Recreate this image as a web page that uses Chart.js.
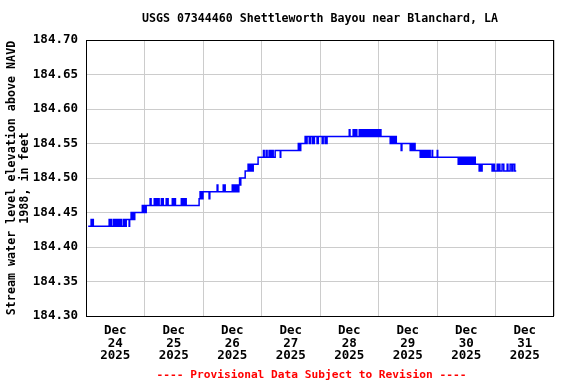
<!DOCTYPE html>
<html>
<head>
<meta charset="utf-8">
<script src="https://cdn.jsdelivr.net/npm/chart.js@4.4.0/dist/chart.umd.min.js"></script>
<style>
    html, body { margin: 0; padding: 0; background: #ffffff; }
</style>
</head>
<body>
<canvas id="gageChart" width="576" height="384"></canvas>
<script>
// Readings as [hours since Dec 24 00:00, elevation ft], one point per change in value
const day24 = [
    [0.9, 184.43], [2.1, 184.44], [2.5, 184.43], [2.8, 184.44], [3.0, 184.43],
    [9.5, 184.44], [9.9, 184.43], [10.1, 184.44], [10.4, 184.43],
    [11.2, 184.44], [11.6, 184.43], [11.9, 184.44], [12.1, 184.43],
    [12.4, 184.44], [12.8, 184.43], [13.0, 184.44], [13.4, 184.43], [13.6, 184.44], [14.0, 184.43], [14.2, 184.44], [14.5, 184.43],
    [15.3, 184.44], [15.7, 184.43], [15.9, 184.44], [16.3, 184.43], [16.5, 184.44],
    [17.7, 184.43], [17.9, 184.44],
    [18.5, 184.45], [18.8, 184.44], [19.0, 184.45], [19.3, 184.44], [19.5, 184.45], [19.8, 184.44], [20.0, 184.45],
    [23.1, 184.46], [23.4, 184.45], [23.6, 184.46], [23.9, 184.45]
];
const day25 = [
    [24.1, 184.46], [24.4, 184.45], [24.7, 184.46],
    [26.3, 184.47], [26.7, 184.46],
    [28.0, 184.47], [28.3, 184.46], [28.5, 184.47], [28.8, 184.46], [29.0, 184.47], [29.3, 184.46], [29.5, 184.47], [30.0, 184.46],
    [30.9, 184.47], [31.2, 184.46], [31.4, 184.47], [31.7, 184.46],
    [32.9, 184.47], [33.2, 184.46], [33.4, 184.47], [33.7, 184.46],
    [35.4, 184.47], [35.7, 184.46], [35.9, 184.47], [36.2, 184.46], [36.4, 184.47], [36.7, 184.46],
    [39.1, 184.47], [39.4, 184.46], [39.6, 184.47], [39.9, 184.46], [40.1, 184.47], [40.4, 184.46], [40.6, 184.47], [41.1, 184.46],
    [46.4, 184.47], [46.8, 184.48], [47.1, 184.47], [47.3, 184.48], [47.6, 184.47]
];
const day26 = [
    [48.0, 184.48], [50.5, 184.47], [50.8, 184.48],
    [53.8, 184.49], [54.1, 184.48],
    [56.3, 184.49], [56.6, 184.48], [56.8, 184.49], [57.1, 184.48],
    [60.0, 184.49], [60.3, 184.48], [60.5, 184.49], [60.8, 184.48], [61.0, 184.49], [61.3, 184.48], [61.5, 184.49], [61.8, 184.48],
    [62.2, 184.49], [62.5, 184.48], [62.7, 184.49], [63.0, 184.50], [63.2, 184.49], [63.5, 184.50],
    [65.3, 184.51],
    [66.5, 184.52], [66.8, 184.51], [67.0, 184.52], [67.3, 184.51], [67.5, 184.52], [67.8, 184.51], [68.0, 184.52], [68.3, 184.51], [68.6, 184.52],
    [70.6, 184.53]
];
const day27 = [
    [72.8, 184.54],
    [73.1, 184.53], [73.9, 184.54], [74.3, 184.53], [75.1, 184.54], [75.6, 184.53], [76.2, 184.54], [76.8, 184.53], [77.6, 184.54],
    [79.7, 184.53], [79.9, 184.54],
    [87.1, 184.55], [87.4, 184.54], [87.6, 184.55], [87.9, 184.54], [88.1, 184.55],
    [89.9, 184.56], [90.3, 184.55], [90.7, 184.56], [91.6, 184.55], [92.0, 184.56],
    [92.8, 184.55], [93.1, 184.56], [93.4, 184.55], [93.7, 184.56],
    [94.8, 184.55], [95.3, 184.56]
];
const day28 = [
    [96.9, 184.55], [97.3, 184.56],
    [98.1, 184.55], [98.4, 184.56], [98.6, 184.55], [98.9, 184.56],
    [108.0, 184.57], [108.3, 184.56],
    [109.6, 184.57], [109.9, 184.56], [110.1, 184.57], [110.4, 184.56],
    [110.8, 184.57], [111.1, 184.56],
    [112.1, 184.57], [112.4, 184.56], [112.6, 184.57], [112.9, 184.56], [113.1, 184.57], [113.4, 184.56], [113.6, 184.57], [113.9, 184.56],
    [114.5, 184.57], [114.8, 184.56], [115.0, 184.57], [115.3, 184.56],
    [115.8, 184.57], [116.1, 184.56], [116.3, 184.57], [116.6, 184.56], [116.8, 184.57], [117.3, 184.56], [117.5, 184.57], [117.8, 184.56],
    [118.0, 184.57], [118.3, 184.56], [118.5, 184.57], [118.8, 184.56], [119.0, 184.57], [119.3, 184.56], [119.5, 184.57], [119.8, 184.56]
];
const day29 = [
    [120.0, 184.57], [120.3, 184.56], [120.5, 184.57], [121.0, 184.56],
    [124.8, 184.55], [125.1, 184.56], [125.3, 184.55], [125.6, 184.56], [125.8, 184.55], [126.1, 184.56], [126.3, 184.55], [126.6, 184.56],
    [126.8, 184.55], [127.1, 184.56], [127.3, 184.55],
    [129.3, 184.54], [129.6, 184.55],
    [133.0, 184.54], [133.3, 184.55], [133.5, 184.54], [133.8, 184.55], [134.0, 184.54], [134.3, 184.55], [134.5, 184.54], [134.8, 184.55], [135.0, 184.54],
    [137.1, 184.53], [137.5, 184.54], [137.7, 184.53], [138.3, 184.54], [138.5, 184.53], [139.1, 184.54], [139.4, 184.53], [139.6, 184.54],
    [140.0, 184.53], [140.4, 184.54], [140.7, 184.53], [140.9, 184.54], [141.2, 184.53], [142.0, 184.54], [142.2, 184.53]
];
const day30 = [
    [144.1, 184.54], [144.3, 184.53],
    [152.7, 184.52], [153.0, 184.53], [153.2, 184.52], [153.5, 184.53], [153.7, 184.52], [154.0, 184.53], [154.2, 184.52], [154.5, 184.53],
    [154.8, 184.52], [155.3, 184.53], [155.5, 184.52], [156.0, 184.53], [156.2, 184.52], [156.7, 184.53], [156.9, 184.52], [157.4, 184.53],
    [157.6, 184.52], [158.1, 184.53], [158.3, 184.52], [158.8, 184.53], [159.0, 184.52], [159.4, 184.53], [159.7, 184.52],
    [161.3, 184.51], [161.6, 184.52], [161.9, 184.51], [162.5, 184.52],
    [166.6, 184.51], [166.9, 184.52], [167.1, 184.51], [167.4, 184.52], [167.6, 184.51]
];
const day31 = [
    [168.7, 184.52], [169.0, 184.51], [169.2, 184.52], [169.8, 184.51],
    [170.7, 184.52], [171.4, 184.51], [172.8, 184.52], [173.1, 184.51],
    [174.0, 184.52], [174.7, 184.51], [175.2, 184.52], [175.9, 184.51], [176.5, 184.51]
];

const dayLabels = ['24', '25', '26', '27', '28', '29', '30', '31'];
const monthLabel = 'Dec';
const yearLabel = '2025';
const yTicks = [184.30, 184.35, 184.40, 184.45, 184.50, 184.55, 184.60, 184.65, 184.70];
const midnightHours = [0, 24, 48, 72, 96, 120, 144, 168, 192];
const noonHours = [12, 36, 60, 84, 108, 132, 156, 180];
const chartTitle = 'USGS 07344460 Shettleworth Bayou near Blanchard, LA';
const footNote = '---- Provisional Data Subject to Revision ----';

const readings = [].concat(day24, day25, day26, day27, day28, day29, day30, day31)
    .map(p => ({ x: p[0], y: p[1] }));

const monoBold = { family: 'DejaVu Sans Mono', weight: 'bold' };

// black box round the plot area, title over the plot, red note at the foot
const frameAndText = {
    id: 'frameAndText',
    afterDatasetsDraw(chart) {
        const a = chart.chartArea;
        const ctx = chart.ctx;
        ctx.save();
        ctx.strokeStyle = '#000000';
        ctx.lineWidth = 1;
        ctx.strokeRect(Math.round(a.left) + 0.5, Math.round(a.top) + 0.5,
            Math.round(a.right - a.left) - 1, Math.round(a.bottom - a.top));

        ctx.textAlign = 'center';
        ctx.textBaseline = 'middle';
        ctx.fillStyle = '#000000';
        ctx.font = 'bold 11.6px "DejaVu Sans Mono"';
        ctx.fillText(chartTitle, (a.left + a.right) / 2, 19);

        ctx.fillStyle = '#ff0000';
        ctx.font = 'bold 11.2px "DejaVu Sans Mono"';
        ctx.fillText(footNote, 311.5, 375);
        ctx.restore();
    }
};

const ctx = document.getElementById('gageChart').getContext('2d');
new Chart(ctx, {
    type: 'line',
    data: {
        datasets: [{
            data: readings,
            stepped: true,
            borderColor: '#0000ff',
            borderWidth: 1.5,
            pointRadius: 0,
            fill: false
        }]
    },
    options: {
        responsive: false,
        animation: false,
        layout: { padding: { left: 0, right: 22, top: 40, bottom: 0 } },
        plugins: {
            legend: { display: false },
            tooltip: { enabled: false },
            title: { display: false }
        },
        scales: {
            x: {
                type: 'linear',
                min: 0,
                max: 192,
                afterBuildTicks: s => { s.ticks = midnightHours.map(v => ({ value: v })); },
                afterFit: s => { s.height = 0; },
                ticks: { display: false },
                grid: { color: '#cccccc', drawTicks: false },
                border: { display: false }
            },
            x2: {
                type: 'linear',
                position: 'bottom',
                min: 0,
                max: 192,
                afterBuildTicks: s => { s.ticks = noonHours.map(v => ({ value: v })); },
                afterFit: s => { s.height = 68; },
                ticks: {
                    autoSkip: false,
                    maxRotation: 0,
                    padding: 8.5,
                    color: '#000000',
                    font: { ...monoBold, size: 12.5, lineHeight: 1.0 },
                    callback: (v, i) => [monthLabel, dayLabels[i], yearLabel]
                },
                grid: { display: false, drawTicks: false },
                border: { display: false }
            },
            y: {
                min: 184.30,
                max: 184.70,
                afterBuildTicks: s => { s.ticks = yTicks.map(v => ({ value: v })); },
                afterFit: s => { s.width = 86; },
                ticks: {
                    padding: 8,
                    color: '#000000',
                    font: { ...monoBold, size: 12.5 },
                    callback: v => v.toFixed(2)
                },
                grid: { color: '#cccccc', drawTicks: false },
                border: { color: '#000000' },
                title: {
                    display: true,
                    text: ['Stream water level elevation above NAVD', '1988, in feet'],
                    color: '#000000',
                    font: { ...monoBold, size: 11.7, lineHeight: 1.1 },
                    padding: { top: 6, bottom: 0 }
                }
            }
        }
    },
    plugins: [frameAndText]
});
</script>
</body>
</html>
